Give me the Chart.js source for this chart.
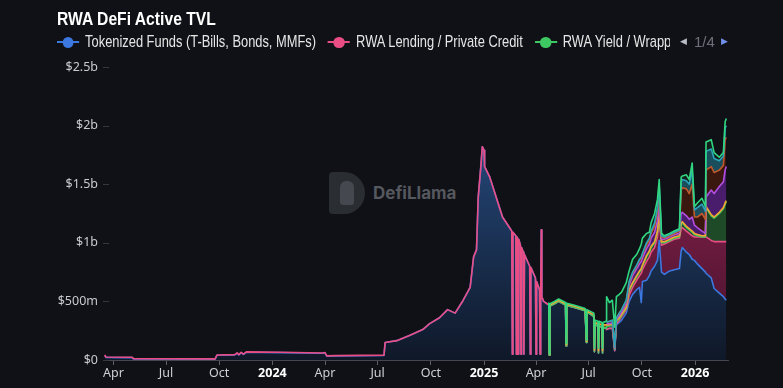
<!DOCTYPE html>
<html>
<head>
<meta charset="utf-8">
<title>RWA DeFi Active TVL</title>
<script src="https://cdn.jsdelivr.net/npm/chart.js@4.4.1/dist/chart.umd.min.js"></script>
<style>
  html, body { margin: 0; padding: 0; background: #0f1116; }
  #box { position: relative; width: 783px; height: 388px; overflow: hidden; }
  /* letra estrecha: no hay "Narrow" instalada, se comprime en horizontal */
  #title { position: absolute; left: 57px; top: 8px; color: #fff; white-space: nowrap;
           font: bold 19px "Liberation Sans", Arial, sans-serif; transform: scaleX(0.825); transform-origin: 0 0; }
  #legend { position: absolute; left: 57px; top: 33px; width: 613px; height: 18px; overflow: hidden; }
  #legend .row { white-space: nowrap; font: 15.7px "Liberation Sans", Arial, sans-serif; line-height: 18px; color: #e6e6e6;
                 transform: scaleX(0.82); transform-origin: 0 0; width: 1200px; }
  .it { display: inline-block; margin-right: 14.6px; }
  .mk { display: inline-block; position: relative; width: 27px; height: 12px; margin-right: 7.3px; vertical-align: -1px; }
  .mk i { position: absolute; left: 0; right: 0; top: 5px; height: 2px; }
  .mk b { position: absolute; left: 6.8px; top: 0.5px; width: 13.4px; height: 11px; border-radius: 50%; }
  #pager { position: absolute; left: 0; top: 33px; width: 783px; height: 18px; font: 15px "Liberation Sans", Arial, sans-serif; line-height: 18px; color: #6d7079; }
  #pager span { position: absolute; top: 0; }
  #pager .ar { font-family: "DejaVu Sans", sans-serif; font-size: 9px; top: -1px; }
  #wm { position: absolute; left: 329px; top: 172px; width: 140px; height: 44px; }
  #wm .logo { position: absolute; left: 0; top: 0; width: 36px; height: 42px; background: #2a2d32; border-radius: 4px 21px 21px 4px; }
  #wm .logo i { position: absolute; left: 11px; top: 9px; width: 14px; height: 24px; background: #45484e; border-radius: 6px 6px 3px 3px; }
  #wm .txt { position: absolute; left: 44px; top: 11px; font: bold 17px Inter, "Open Sans", sans-serif; color: #55585e; }
  canvas { position: absolute; left: 0; top: 0; }
</style>
</head>
<body>
<div id="box">
  <div id="wm"><div class="logo"><i></i></div><div class="txt">DefiLlama</div></div>
  <canvas id="c" width="783" height="388"></canvas>
  <div id="title">RWA DeFi Active TVL</div>
  <div id="legend"><div class="row"></div></div>
  <div id="pager">
    <span class="ar" style="left:680px;color:#b9bcc4">&#9664;</span>
    <span style="left:694px">1/4</span>
    <span class="ar" style="left:721px;color:#6f8fe8">&#9654;</span>
  </div>
</div>
<script>
// Datos (valores en miles de millones de USD, por serie, no acumulados)

const dates = [
  '2023-03-17','2023-03-19','2023-04-20','2023-05-03','2023-05-06','2023-09-24','2023-09-27','2023-10-28','2023-11-01','2023-11-04',
  '2023-11-08','2023-11-12','2023-11-17','2024-01-15','2024-03-28','2024-04-01','2024-04-04','2024-04-20','2024-07-12','2024-07-14',
  '2024-08-03','2024-08-25','2024-09-17','2024-09-29','2024-10-16','2024-10-30','2024-11-12','2024-11-26','2024-12-08','2024-12-14',
  '2024-12-19','2024-12-22','2024-12-27','2024-12-29','2025-01-01','2025-01-02','2025-01-11','2025-02-02','2025-02-14','2025-02-18',
  '2025-02-19','2025-02-20','2025-02-25','2025-02-26','2025-02-27','2025-02-28','2025-03-01','2025-03-02','2025-03-05','2025-03-06',
  '2025-03-07','2025-03-10','2025-03-11','2025-03-12','2025-03-21','2025-03-22','2025-03-23','2025-03-31','2025-04-01','2025-04-02',
  '2025-04-07','2025-04-08','2025-04-09','2025-04-10','2025-04-11','2025-04-14','2025-04-20',
  '2025-04-23','2025-04-24','2025-04-25','2025-05-03','2025-05-10','2025-05-22','2025-05-23','2025-05-24','2025-06-05','2025-06-25',
  '2025-06-27','2025-06-28','2025-07-10','2025-07-11','2025-07-12','2025-07-17','2025-07-18','2025-07-19','2025-07-24','2025-07-25',
  '2025-07-26','2025-07-31',
  '2025-08-01','2025-08-06','2025-08-11','2025-08-15','2025-08-18','2025-08-23','2025-08-27','2025-09-04','2025-09-09','2025-09-15',
  '2025-09-22','2025-09-27','2025-09-30','2025-10-02','2025-10-09','2025-10-14','2025-10-17','2025-10-23','2025-10-28','2025-10-31',
  '2025-11-04','2025-11-09','2025-11-18','2025-11-26','2025-12-05','2025-12-08','2025-12-10','2025-12-17','2025-12-22','2025-12-27',
  '2025-12-31','2026-01-05','2026-01-13','2026-01-19','2026-01-20','2026-01-29','2026-02-03','2026-02-12','2026-02-19','2026-02-22',
  '2026-02-24'
];

const funds = [
  0.040,0.022,0.020,0.021,0.008,0.007,0.040,0.043,0.058,0.043,
  0.063,0.048,0.066,0.063,0.057,0.061,0.032,0.034,0.039,0.150,
  0.165,0.210,0.260,0.310,0.360,0.430,0.400,0.510,0.620,0.880,
  0.940,1.390,1.680,1.820,1.790,1.650,1.560,1.220,1.130,1.100,
  0.050,1.090,1.060,0.050,1.050,1.040,0.050,1.030,0.980,0.050,
  0.960,0.920,0.050,0.900,0.800,0.050,0.790,0.700,0.050,0.670,
  0.600,0.050,0.570,1.110,0.540,0.500,0.480,
  0.470,0.040,0.460,0.480,0.500,0.470,0.120,0.465,0.450,0.420,
  0.150,0.410,0.370,0.070,0.300,0.290,0.060,0.290,0.280,0.060,
  0.280,0.270,
  0.26,0.27,0.27,0.08,0.30,0.32,0.34,0.40,0.50,0.56,
  0.60,0.62,0.49,0.67,0.68,0.72,0.76,0.80,0.85,1.02,
  0.75,0.73,0.76,0.77,0.78,0.93,0.96,0.92,0.90,0.86,
  0.85,0.82,0.78,0.75,0.74,0.70,0.61,0.57,0.54,0.52,
  0.51
];

const lending = [
  0.003,0.003,0.003,0.003,0.003,0.003,0.003,0.003,0.003,0.003,
  0.003,0.003,0.003,0.003,0.003,0.003,0.003,0.003,0.003,0,
  0,0,0,0,0,0,0,0,0,0,
  0,0,0,0,0,0,0,0,0,0,
  0,0,0,0,0,0,0,0,0,0,
  0,0,0,0,0,0,0,0,0,0,
  0,0,0,0,0,0,0,
  0,0,0,0,0,0,0,0,0,0,
  0,0,0,0,0,0,0,0,0,0,
  0,0,
  0,0,0,0,0.01,0.02,0.03,0.03,0.05,0.06,
  0.08,0.10,0.25,0.10,0.16,0.16,0.16,0.16,0.20,0.20,
  0.23,0.26,0.25,0.26,0.26,0.19,0.17,0.18,0.18,0.20,
  0.20,0.23,0.27,0.30,0.31,0.32,0.40,0.44,0.47,0.49,
  0.50
];

// series que empiezan el 2025-04-23
const yieldWrapped = [
  0,0,0,0,0,0,0,0,0,0,0,0,0,0,0,0,0,0,0,0,0,0,
  0.03,0.02,0.03,0.01,0.02,0.01,0.01,0.01,0.04,0.03,
  0.03,0.03,0.03,0.03,0.04,0.04,0.04,0.04,0.04,0.02,
  0.02,0.01,0.01,0.01,0.01,0.04,0.04,0.03,0.03,0.03,
  0.02,0.01,0,0,0.25,0.21,0.20,0.24,0.28,0.32,
  0.34
];
const commodities = [
  0.010,0.005,0.010,0.010,0.010,0.010,0.010,0.010,0.010,0.010,0.010,0.010,0.015,0.015,0.020,0.020,0.020,0.020,0.020,0.020,0.020,0.030,
  0.01,0.01,0.01,0.01,0.01,0.01,0.01,0.01,0.01,0.01,
  0.01,0.01,0.01,0.01,0.01,0.01,0.01,0.01,0.01,0.01,
  0.01,0.01,0.01,0.01,0.01,0.01,0.01,0.01,0.01,0.01,
  0.01,0.01,0.01,0.01,0.01,0.01,0.01,0.01,0.01,0.01,
  0.01
];
const otherRwa = [
  0.010,0.005,0.010,0.010,0.010,0.010,0.010,0.010,0.010,0.010,0.010,0.010,0.015,0.015,0.020,0.020,0.020,0.020,0.020,0.020,0.020,0.030,
  0.22,0.16,0.17,0.17,0.18,0.16,0.15,0.15,0.09,0.11,
  0.09,0.09,0.11,0.13,0.08,0.05,0.07,0.08,0.07,0.06,
  0.02,0.01,0.01,0.01,0.01,0.04,0.03,0.05,0.04,0.06,
  0.03,0.04,0.05,0.04,0.08,0.08,0.05,0.03,0.03,0.05,
  0.06
];

// series que empiezan el 2025-08-01
const equities = [
  0.01,0.01,0.01,0,0.01,0.02,0.02,0.03,0.04,0.06,
  0.06,0.06,0.06,0.06,0.06,0.06,0.07,0.08,0.09,0.08,
  0.02,0.02,0.02,0.02,0.02,0.08,0.08,0.09,0.08,0.12,
  0.07,0.06,0.04,0.02,0.08,0.21,0.20,0.22,0.22,0.28,
  0.29
];
const realEstate = [
  0.01,0.02,0.02,0.01,0.01,0.02,0.02,0.02,0.02,0.02,
  0.02,0.03,0.03,0.03,0.03,0.03,0.04,0.05,0.07,0.09,
  0.02,0.01,0.01,0.01,0.02,0.20,0.21,0.23,0.22,0.28,
  0.07,0.09,0.15,0.12,0.23,0.20,0.18,0.14,0.14,0.26,
  0.25
];
const structured = [
  0,0,0,0,0,0,0,0.01,0.01,0.01,
  0.01,0.01,0.01,0.01,0.02,0.02,0.02,0.03,0.04,0.06,
  0.01,0.01,0.01,0.01,0.01,0.07,0.07,0.07,0.08,0.12,
  0.06,0.08,0.08,0.07,0.16,0.15,0.12,0.08,0.08,0.10,
  0.10
];

const tickDates = ['2023-04-01','2023-07-01','2023-10-01','2024-01-01','2024-04-01','2024-07-01',
                   '2024-10-01','2025-01-01','2025-04-01','2025-07-01','2025-10-01','2026-01-01'];
const tickLabels = ['Apr','Jul','Oct','2024','Apr','Jul','Oct','2025','Apr','Jul','Oct','2026'];


// ---- helpers ----
function dayNum(d) {
  return Date.UTC(+d.slice(0, 4), +d.slice(5, 7) - 1, +d.slice(8, 10)) / 864e5;
}
// rellena con null las fechas antes de que exista la serie
function fromDate(start, vals) {
  return Array(dates.indexOf(start)).fill(null).concat(vals);
}

function vGrad(top, bottom, c1, c2) {
  return (c) => {
    const a = c.chart.chartArea;
    if (!a) return c2;
    const g = c.chart.ctx.createLinearGradient(0, top, 0, bottom);
    g.addColorStop(0, c1);
    g.addColorStop(1, c2);
    return g;
  };
}

const series = [
  { name: 'Tokenized Funds (T-Bills, Bonds, MMFs)', values: funds, line: '#3b78e0', fill: vGrad(140, 360, '#244779', '#0f1828') },
  { name: 'RWA Lending / Private Credit', values: lending, line: '#ea4c84', fill: vGrad(180, 330, '#80204a', '#4c132e') },
  { name: 'RWA Yield / Wrapped', values: fromDate('2025-04-23', yieldWrapped), line: '#3dc862', fill: '#1e4a27' },
  { name: 'Tokenized Commodities', values: fromDate('2025-04-23', commodities), line: '#f2a531', fill: '#5a3b14' },
  { name: 'Tokenized Equities', values: fromDate('2025-08-01', equities), line: '#b24ee0', fill: '#4a1d6c' },
  { name: 'Real Estate', values: fromDate('2025-08-01', realEstate), line: '#c05a2c', fill: '#3a170f' },
  { name: 'Structured Products', values: fromDate('2025-08-01', structured), line: '#2aa4bb', fill: '#1b4e5c' },
  { name: 'Other RWA', values: fromDate('2025-04-23', otherRwa), line: '#30d680', fill: '#13211c' }
];

// acumulado (area apilada), la serie de arriba se dibuja al final
let running = dates.map(() => 0);
const datasets = series.map((s, k) => {
  running = running.map((r, i) => r + (s.values[i] == null ? 0 : s.values[i]));
  const cum = running.slice();
  return {
    label: s.name,
    data: dates.map((d, i) => ({ x: dayNum(d), y: cum[i] })),
    borderColor: s.line,
    backgroundColor: s.fill,
    fill: k === 0 ? 'origin' : '-1',
    order: -k,
    borderWidth: 1.6,
    borderJoinStyle: 'round',
    pointRadius: 0,
    segment: {
      borderColor: c => (s.values[c.p0DataIndex] == null || s.values[c.p1DataIndex] == null) ? 'transparent' : undefined
    }
  };
});

// leyenda (pagina 1 de 4)
document.querySelector('#legend .row').innerHTML = series.map(s =>
  `<span class="it"><span class="mk"><i style="background:${s.line}"></i><b style="background:${s.line}"></b></span>${s.name}</span>`
).join('');

// rayitas del eje y
const yTickDash = {
  id: 'yTickDash',
  afterDraw(chart) {
    const { ctx, chartArea, scales } = chart;
    ctx.save();
    ctx.strokeStyle = '#34373e';
    ctx.lineWidth = 1;
    scales.y.ticks.forEach(t => {
      const y = Math.round(scales.y.getPixelForValue(t.value)) + 0.5;
      ctx.beginPath();
      ctx.moveTo(chartArea.left, y);
      ctx.lineTo(chartArea.left + 6, y);
      ctx.stroke();
    });
    ctx.restore();
  }
};

const isYear = i => /^\d/.test(tickLabels[i] || '');

new Chart(document.getElementById('c'), {
  type: 'line',
  data: { datasets },
  plugins: [yTickDash],
  options: {
    responsive: false,
    animation: false,
    devicePixelRatio: 1,
    layout: { padding: { left: 0, right: 55, top: 67, bottom: 0 } },
    plugins: {
      legend: { display: false },
      tooltip: { enabled: false },
      filler: { drawTime: 'beforeDatasetsDraw' }
    },
    scales: {
      x: {
        type: 'linear',
        min: dayNum('2023-03-14'),
        max: dayNum('2026-02-27'),
        afterBuildTicks: s => { s.ticks = tickDates.map(d => ({ value: dayNum(d) })); },
        ticks: {
          autoSkip: false,
          maxRotation: 0,
          padding: 1,
          callback: (v, i) => tickLabels[i],
          color: c => isYear(c.index) ? '#ffffff' : '#cfd0d4',
          font: c => ({ family: 'Noto Sans', size: 12.5, weight: isYear(c.index) ? 'bold' : 'normal' })
        },
        grid: { drawOnChartArea: false, drawTicks: true, tickLength: 5, color: '#5b5f68' },
        border: { color: '#44474f' },
        afterFit: s => { s.height = 28; }
      },
      y: {
        min: 0,
        max: 2.5,
        ticks: {
          stepSize: 0.5,
          padding: 5,
          color: '#c9cacf',
          font: { family: 'Noto Sans', size: 12.5 },
          callback: v => v === 0 ? '$0' : (v < 1 ? '$' + Math.round(v * 1000) + 'm' : '$' + v + 'b')
        },
        grid: { display: false, drawTicks: false },
        border: { display: false },
        afterFit: s => { s.width = 103; }
      }
    }
  }
});
</script>
</body>
</html>
